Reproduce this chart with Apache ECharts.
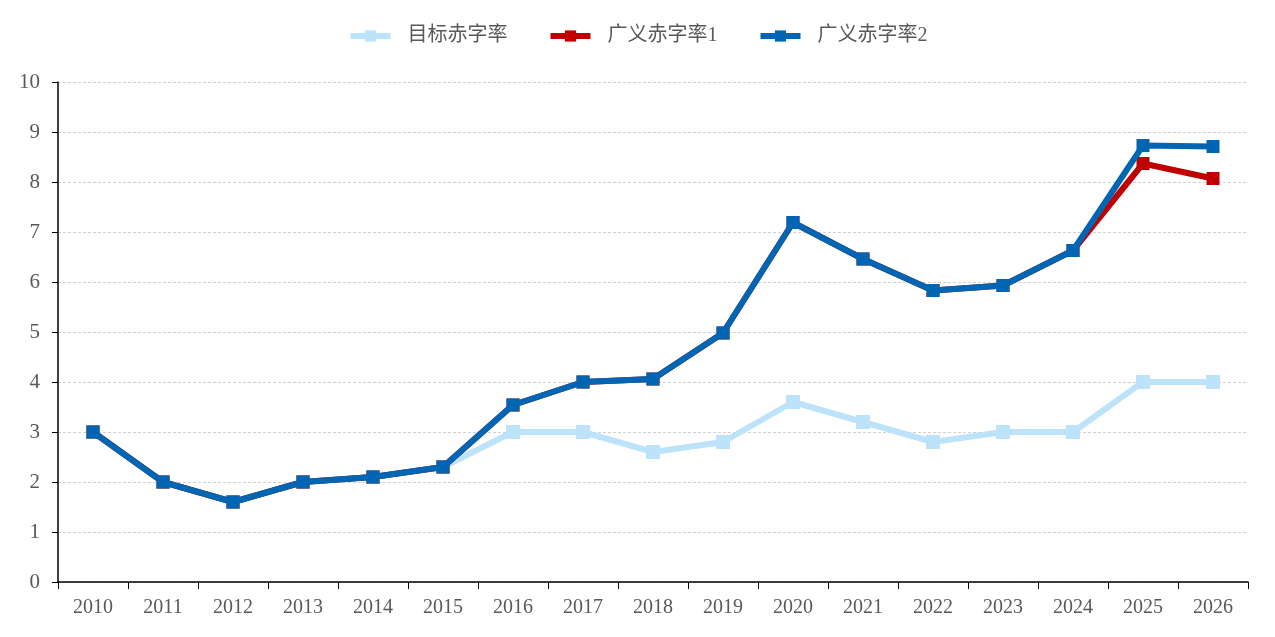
<!DOCTYPE html>
<html>
<head>
<meta charset="utf-8">
<script src="https://cdn.jsdelivr.net/npm/echarts@6/dist/echarts.min.js"></script>
<style>html,body{margin:0;padding:0;background:#fff;}#c{width:1275px;height:637px;}</style>
</head>
<body>
<div id="c"></div>
<script>
const years = ['2010','2011','2012','2013','2014','2015','2016','2017','2018','2019','2020','2021','2022','2023','2024','2025','2026'];
const targetDeficit = [3.0,2.0,1.6,2.0,2.1,2.3,3.0,3.0,2.6,2.8,3.6,3.2,2.8,3.0,3.0,4.0,4.0];
const broadDeficit1 = [3.0,2.0,1.6,2.0,2.1,2.3,3.54,4.0,4.06,4.98,7.19,6.46,5.83,5.93,6.63,8.37,8.07];
const broadDeficit2 = [3.0,2.0,1.6,2.0,2.1,2.3,3.54,4.0,4.06,4.98,7.19,6.46,5.83,5.93,6.63,8.73,8.71];
const seriesNames = ['目标赤字率','广义赤字率1','广义赤字率2'];
const colors = ['#BDE3FB','#C00000','#0066B3'];

const FONT = '"Liberation Serif", "Noto Sans CJK SC", serif';
const chart = echarts.init(document.getElementById('c'), null, {renderer:'canvas'});
function mk(i, data, size){
  return {
    name: seriesNames[i], type:'line', data: data,
    symbol:'rect', symbolSize:size, showSymbol:true,
    lineStyle:{width:6,color:colors[i]},
    itemStyle:{color:colors[i]},
    animation:false, z: 2+i
  };
}
chart.setOption({
  animation:false,
  textStyle:{fontFamily:FONT},
  legend:{
    top:21, left:'center',
    itemWidth:40, itemHeight:14, itemGap:40,
    lineStyle:{width:6},
    textStyle:{fontFamily:FONT,fontSize:20,color:'#595959',padding:[0,0,0,12]},
    data: seriesNames
  },
  grid:{left:58,right:27,top:82,bottom:55},
  xAxis:{
    type:'category', data:years, boundaryGap:true,
    axisLine:{lineStyle:{color:'#000',width:1.5}},
    axisTick:{show:true,length:7,lineStyle:{color:'#000'}},
    axisLabel:{fontFamily:FONT,fontSize:20,color:'#595959',margin:16},
    splitLine:{show:false}
  },
  yAxis:{
    type:'value', min:0, max:10, interval:1,
    axisLine:{show:true,lineStyle:{color:'#000',width:1.5}},
    axisTick:{show:true,length:6,inside:false,lineStyle:{color:'#000'}},
    axisLabel:{fontFamily:FONT,fontSize:21,color:'#595959',margin:18},
    splitLine:{show:true,lineStyle:{color:'#D0D0D0',type:[3,2],width:1}}
  },
  series:[ mk(0,targetDeficit,14), mk(1,broadDeficit1,13), mk(2,broadDeficit2,13) ]
});
</script>
</body>
</html>
